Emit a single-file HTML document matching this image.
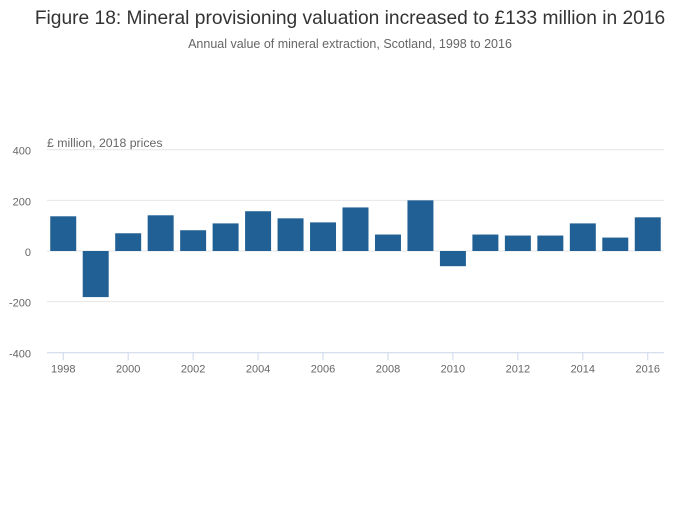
<!DOCTYPE html>
<html><head><meta charset="utf-8"><style>
body{margin:0;background:#fff;font-family:"Liberation Sans",sans-serif}
svg text{font-family:"Liberation Sans",sans-serif}
</style></head><body>
<svg width="700" height="502">
<text x="350" y="24" text-anchor="middle" font-size="19.2" fill="#333">Figure 18: Mineral provisioning valuation increased to £133 million in 2016</text>
<text x="350" y="48" text-anchor="middle" font-size="12.5" fill="#666">Annual value of mineral extraction, Scotland, 1998 to 2016</text>
<text x="47" y="147" font-size="12.3" fill="#666">£ million, 2018 prices</text>
<g id="grid"></g><g id="bars"></g><g id="xaxis"></g>
</svg>
<script>
const years=[1998,1999,2000,2001,2002,2003,2004,2005,2006,2007,2008,2009,2010,2011,2012,2013,2014,2015,2016];
const values=[137,-182,70,141,82,109,157,129,113,172,65,200,-60,65,61,61,109,53,133];
const yTicks=[400,200,0,-200,-400];
const NS="http://www.w3.org/2000/svg";
const L=47,R=664,T=149.7,B=352.3;
const y=v=>T+(400-v)/800*(B-T);
const band=(R-L)/years.length;
const x=i=>L+band*i;
function mk(t,a,p){const e=document.createElementNS(NS,t);for(const k in a)e.setAttribute(k,a[k]);p.appendChild(e);return e;}
const g=document.getElementById('grid'),b=document.getElementById('bars'),xa=document.getElementById('xaxis');
yTicks.forEach(v=>{
 if(v!==-400){const l=mk('line',{x1:L,x2:R,y1:y(v),y2:y(v),stroke:'#e6e6e6','stroke-width':1},g);
 
 }
 const t=mk('text',{x:31,y:y(v)+5,'text-anchor':'end','font-size':11,fill:'#666'},g);t.textContent=v;
 
 
});
values.forEach((v,i)=>{
 const w=band*0.8,x0=x(i)+band*0.1;
 const r=mk('rect',{x:x0,width:w,y:Math.min(y(v),y(0)),height:Math.abs(y(v)-y(0)),fill:'#206095'},b);
 
 
});
const ax=mk('line',{x1:L,x2:R,y1:B+0.5,y2:B+0.5,stroke:'#ccd6eb'},xa);


years.forEach((yr,i)=>{
 if(i%2)return;
 const cx=x(i)+band/2;
 mk('line',{x1:cx,x2:cx,y1:B,y2:B+8,stroke:'#ccd6eb'},xa);
 const t=mk('text',{x:cx,y:B+20,'text-anchor':'middle','font-size':11,fill:'#666'},xa);t.textContent=yr;
 
 
});
</script>
</body></html>
